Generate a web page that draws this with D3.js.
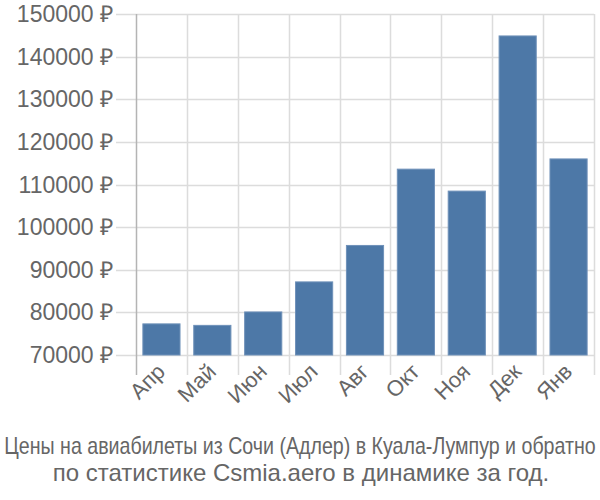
<!DOCTYPE html>
<html><head><meta charset="utf-8">
<script src="https://cdn.jsdelivr.net/npm/d3@7"></script>
<style>body{margin:0;background:#fff}svg{display:block}</style>
</head><body>
<svg id="c" width="600" height="500"></svg>
<script>
const categories = ["Апр","Май","Июн","Июл","Авг","Окт","Ноя","Дек","Янв"];
const values = [77300, 76950, 80100, 87150, 95700, 113600, 108450, 144850, 116000];
const yTicks = [70000, 80000, 90000, 100000, 110000, 120000, 130000, 140000, 150000];
const titleLines = ["Цены на авиабилеты из Сочи (Адлер) в Куала-Лумпур и обратно",
                    "по статистике Csmia.aero в динамике за год."];

(function(){
const svg = d3.select("#c");
const pL = 136, pR = 594, pT = 14, pB = 355;
const x = d3.scaleBand().domain(categories).range([pL, pR]).paddingInner(0.27).paddingOuter(0.135);
const xc = d3.scaleBand().domain(categories).range([pL, pR]);
const y = d3.scaleLinear().domain([70000, 150000]).range([pB, pT]);

// horizontal grid
svg.append("g").selectAll("line").data(yTicks).join("line")
  .attr("x1", pL - 20).attr("x2", pR)
  .attr("y1", d => Math.round(y(d)) + 0.5).attr("y2", d => Math.round(y(d)) + 0.5)
  .attr("stroke", "#dcdcdc").attr("stroke-width", 1.5);
// vertical grid
const vx = categories.map(c => xc(c)).concat([pR]);
svg.append("g").selectAll("line").data(vx.slice(1)).join("line")
  .attr("x1", d => Math.round(d) + 0.5).attr("x2", d => Math.round(d) + 0.5)
  .attr("y1", pT).attr("y2", pB + 20)
  .attr("stroke", "#dcdcdc").attr("stroke-width", 1.5);
// axis line
svg.append("line").attr("x1", pL + 0.5).attr("x2", pL + 0.5).attr("y1", pT).attr("y2", pB + 20)
  .attr("stroke", "#b4b4b4").attr("stroke-width", 1.5);

// bars
svg.append("g").selectAll("rect").data(values).join("rect")
  .attr("x", (d, i) => x(categories[i]))
  .attr("width", x.bandwidth())
  .attr("y", d => y(d))
  .attr("height", d => pB - y(d))
  .attr("fill", "#4d78a7")
  .attr("stroke", "#6f91b9").attr("stroke-width", 1);

// y labels
svg.append("g").selectAll("text").data(yTicks).join("text")
  .attr("x", 113).attr("y", d => y(d) + 8)
  .attr("text-anchor", "end")
  .attr("font-family", "Liberation Sans, Arial, sans-serif")
  .attr("font-size", 23).attr("fill", "#666")
  .text(d => d + " ₽");

// x labels
svg.append("g").selectAll("text").data(categories).join("text")
  .attr("transform", d => `translate(${xc(d) + xc.bandwidth()/2 + 5},${pB + 18}) rotate(-45)`)
  .attr("text-anchor", "end")
  .attr("font-family", "Liberation Sans, Arial, sans-serif")
  .attr("font-size", 22).attr("fill", "#666")
  .text(d => d);

// title
const t1 = svg.append("text").attr("x", 0).attr("y", 0).attr("text-anchor", "middle")
  .attr("font-family", "Liberation Sans, Arial, sans-serif")
  .attr("font-size", 23).attr("fill", "#666")
  .text(titleLines[0]);
const w1 = t1.node().getComputedTextLength();
const sx = Math.min(1, 592 / w1);
t1.attr("transform", `translate(300,454) scale(${sx},1)`);
svg.append("text").attr("x", 301).attr("y", 481).attr("text-anchor", "middle")
  .attr("font-family", "Liberation Sans, Arial, sans-serif")
  .attr("font-size", 24).attr("fill", "#666")
  .text(titleLines[1]);
})();
</script>
</body></html>
